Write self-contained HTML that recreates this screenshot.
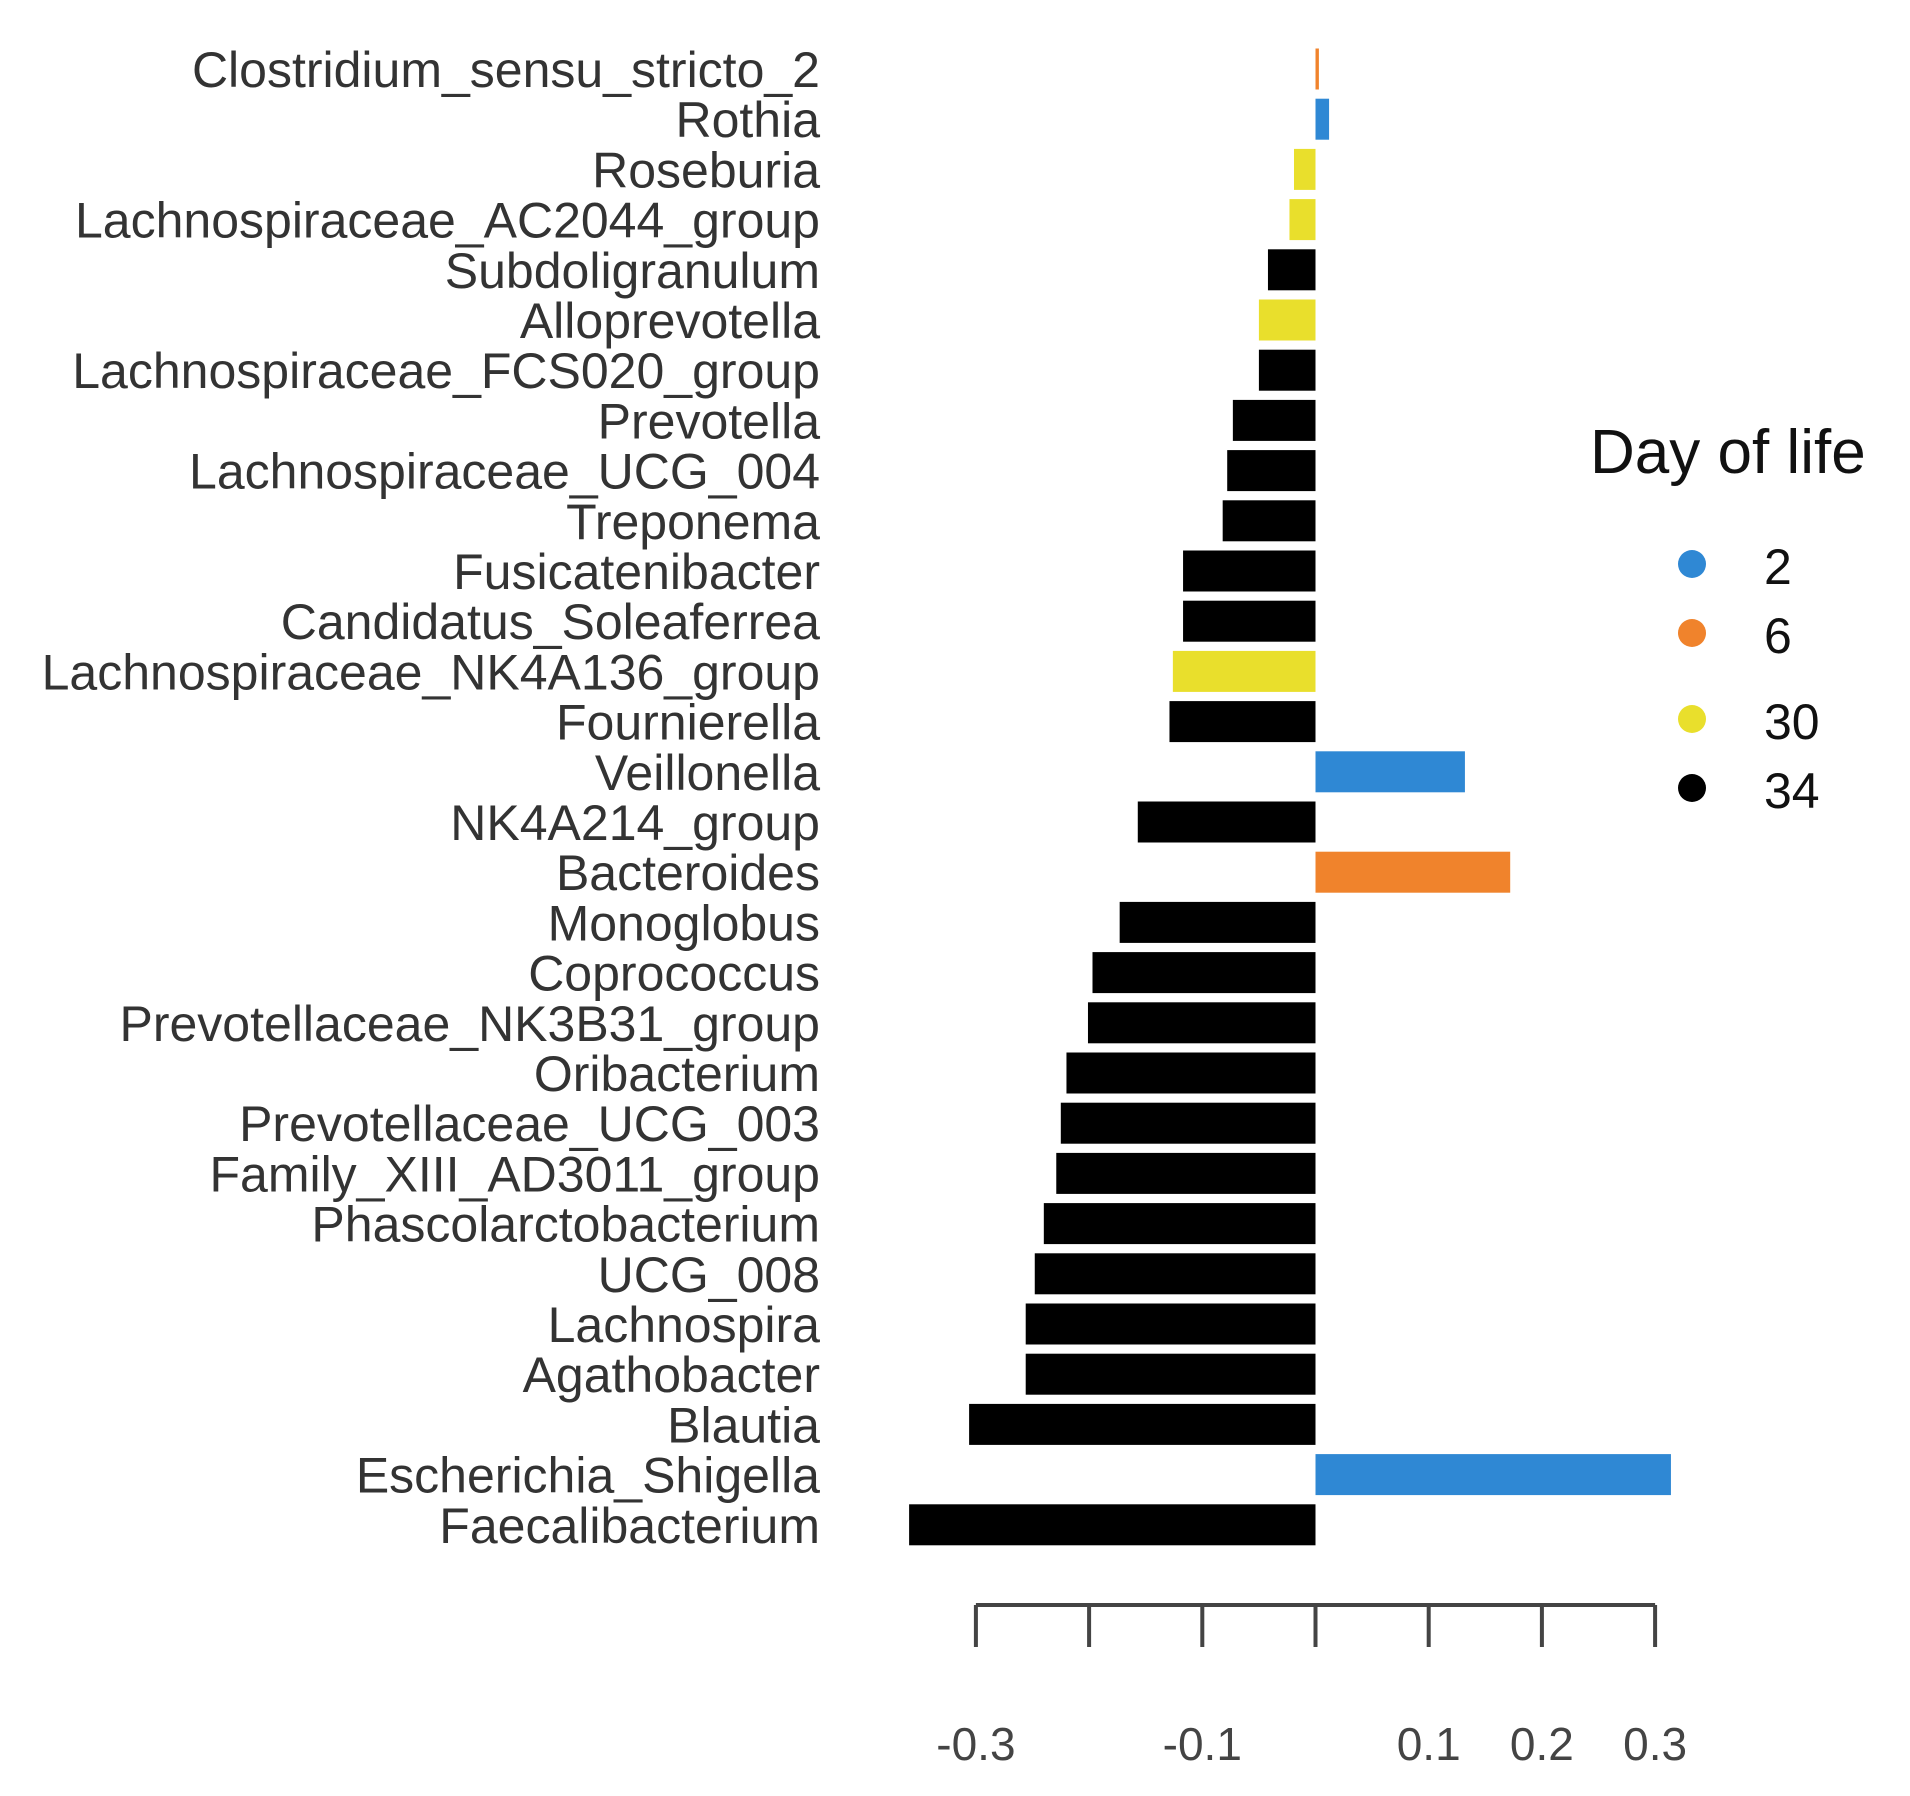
<!DOCTYPE html>
<html><head><meta charset="utf-8"><style>
html,body{margin:0;padding:0;background:#fff;}
svg{display:block;font-family:"Liberation Sans",Arial,sans-serif;}
</style></head><body>
<svg id="chart" width="1910" height="1796" viewBox="0 0 1910 1796" xmlns="http://www.w3.org/2000/svg">
<rect x="0" y="0" width="1910" height="1796" fill="#fff"/>
<g id="bars"></g>
<g id="labels"></g>
<g id="xaxis"></g>
<g id="legend">
<text x="1590" y="473" font-size="62" fill="#111">Day of life</text>
</g>
</svg>
<script>
const categories = ["Clostridium_sensu_stricto_2","Rothia","Roseburia","Lachnospiraceae_AC2044_group","Subdoligranulum","Alloprevotella","Lachnospiraceae_FCS020_group","Prevotella","Lachnospiraceae_UCG_004","Treponema","Fusicatenibacter","Candidatus_Soleaferrea","Lachnospiraceae_NK4A136_group","Fournierella","Veillonella","NK4A214_group","Bacteroides","Monoglobus","Coprococcus","Prevotellaceae_NK3B31_group","Oribacterium","Prevotellaceae_UCG_003","Family_XIII_AD3011_group","Phascolarctobacterium","UCG_008","Lachnospira","Agathobacter","Blautia","Escherichia_Shigella","Faecalibacterium"];
const values = [0.003,0.012,-0.019,-0.023,-0.042,-0.05,-0.05,-0.073,-0.078,-0.082,-0.117,-0.117,-0.126,-0.129,0.132,-0.157,0.172,-0.173,-0.197,-0.201,-0.22,-0.225,-0.229,-0.24,-0.248,-0.256,-0.256,-0.306,0.314,-0.359];
const days = [6,2,30,30,34,30,34,34,34,34,34,34,30,34,2,34,6,34,34,34,34,34,34,34,34,34,34,34,2,34];
const tickValues = [-0.3,-0.2,-0.1,0,0.1,0.2,0.3];
const tickLabels = ["-0.3","","-0.1","","0.1","0.2","0.3"];
const legendDays = [2,6,30,34];

const colorMap = {2:"#2f88d4",6:"#f0832c",30:"#e9df2c",34:"#000000"};
const NS = "http://www.w3.org/2000/svg";
const x0 = 1315.5, perUnit = 1132;
function xScale(v){ return x0 + v*perUnit; }
function yScale(i){ return 69 + i*50.2; }
const barH = 41;

const gb = document.getElementById('bars');
const gl = document.getElementById('labels');
categories.forEach((c,i)=>{
  const v = values[i];
  const xa = xScale(Math.min(0,v)), xb = xScale(Math.max(0,v));
  const r = document.createElementNS(NS,'rect');
  r.setAttribute('x', xa); r.setAttribute('y', yScale(i)-barH/2);
  r.setAttribute('width', Math.max(2, xb-xa)); r.setAttribute('height', barH);
  r.setAttribute('fill', colorMap[days[i]]);
  
  
  gb.appendChild(r);
  const t = document.createElementNS(NS,'text');
  t.setAttribute('x', 820); t.setAttribute('y', yScale(i)+18);
  t.setAttribute('text-anchor','end'); t.setAttribute('font-size','50');
  t.setAttribute('fill','#333');
  t.textContent = c;
  
  
  gl.appendChild(t);
});

const gx = document.getElementById('xaxis');
const axisY = 1605;
const line = document.createElementNS(NS,'line');
line.setAttribute('x1', xScale(tickValues[0])); line.setAttribute('x2', xScale(tickValues[tickValues.length-1]));
line.setAttribute('y1', axisY); line.setAttribute('y2', axisY);
line.setAttribute('stroke','#444'); line.setAttribute('stroke-width','4');


gx.appendChild(line);
tickValues.forEach((v,i)=>{
  const tk = document.createElementNS(NS,'line');
  tk.setAttribute('x1', xScale(v)); tk.setAttribute('x2', xScale(v));
  tk.setAttribute('y1', axisY); tk.setAttribute('y2', axisY+42);
  tk.setAttribute('stroke','#444'); tk.setAttribute('stroke-width','4');
  
  
  gx.appendChild(tk);
  if (tickLabels[i]) {
    const t = document.createElementNS(NS,'text');
    t.setAttribute('x', xScale(v)); t.setAttribute('y', 1760);
    t.setAttribute('text-anchor','middle'); t.setAttribute('font-size','46');
    t.setAttribute('fill','#444');
    t.textContent = tickLabels[i];
    
    
    gx.appendChild(t);
  }
});

const gleg = document.getElementById('legend');
const legY = [564,633,719,788];
legendDays.forEach((d,i)=>{
  const c = document.createElementNS(NS,'circle');
  c.setAttribute('cx', 1692); c.setAttribute('cy', legY[i]); c.setAttribute('r', 14);
  c.setAttribute('fill', colorMap[d]);
  
  
  gleg.appendChild(c);
  const t = document.createElementNS(NS,'text');
  t.setAttribute('x', 1764); t.setAttribute('y', legY[i]+20);
  t.setAttribute('font-size','50'); t.setAttribute('fill','#111');
  t.textContent = d;
  
  
  gleg.appendChild(t);
});
</script>
</body></html>
